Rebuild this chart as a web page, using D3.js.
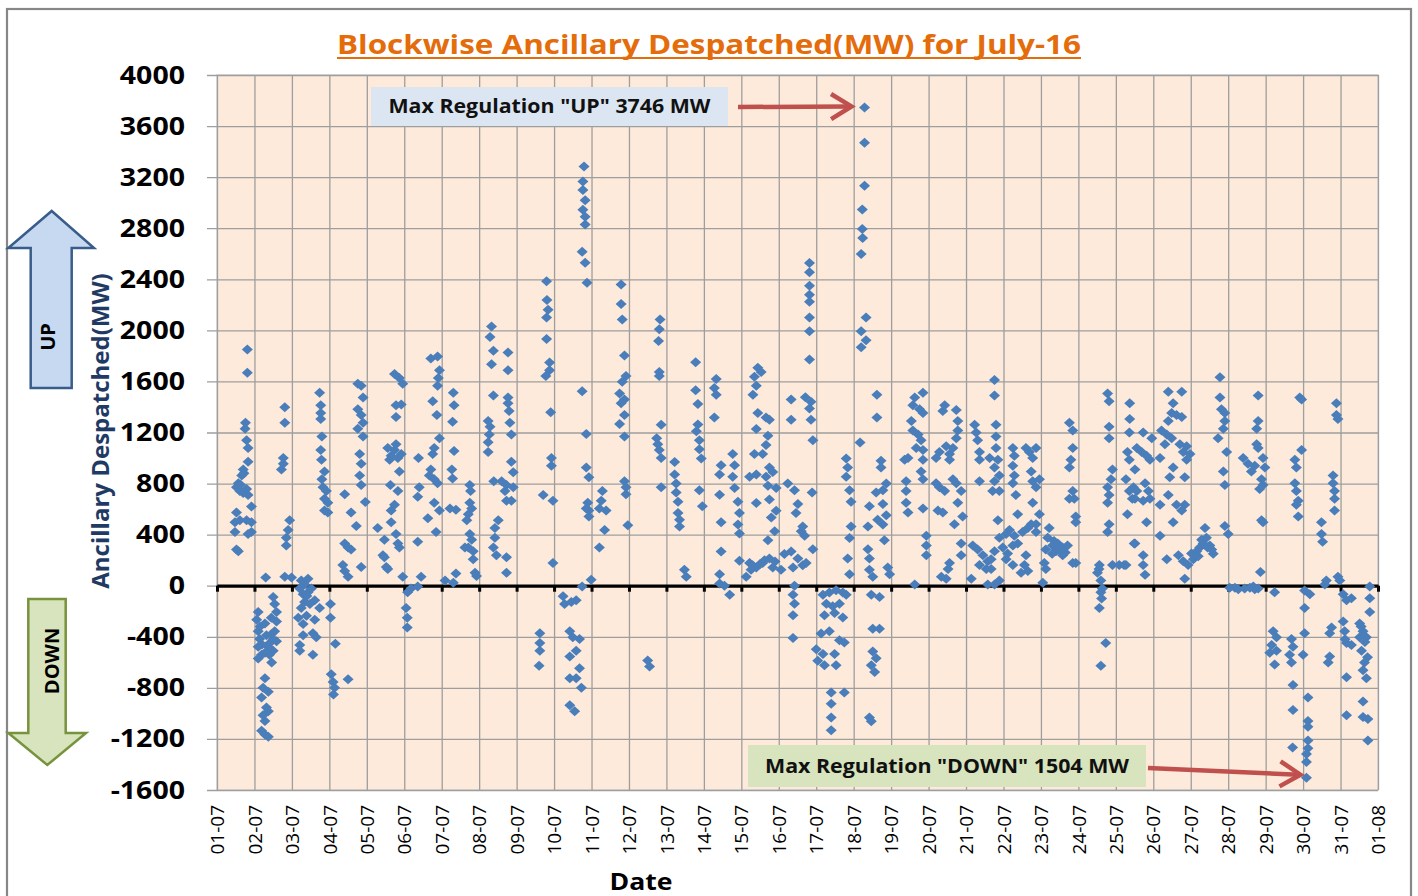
<!DOCTYPE html>
<html>
<head>
<meta charset="utf-8">
<script src="https://cdn.jsdelivr.net/npm/d3@7"></script>
<style>
  body { margin: 0; background: #fff; }
  svg { display: block; font-family: "Open Sans", sans-serif; }
</style>
</head>
<body>
<div id="chart"></div>
<script>
// tick labels
const dateLabels = ["01-07","02-07","03-07","04-07","05-07","06-07","07-07","08-07","09-07","10-07",
  "11-07","12-07","13-07","14-07","15-07","16-07","17-07","18-07","19-07","20-07","21-07","22-07",
  "23-07","24-07","25-07","26-07","27-07","28-07","29-07","30-07","31-07","01-08"];
const yTicks = [-1600,-1200,-800,-400,0,400,800,1200,1600,2000,2400,2800,3200,3600,4000];

// [days since 01-07 00:00, MW]
const week1 = [
  // 01-07
  [0.81,1850],[0.81,1667],[0.76,1276],[0.75,1230],[0.79,1139],[0.83,1078],[0.83,971],[0.70,910],[0.66,864],
  [0.57,803],[0.52,772],[0.61,742],[0.79,757],[0.83,711],[0.70,727],[0.92,620],[0.52,574],[0.61,513],
  [0.48,498],[0.79,513],[0.92,498],[0.92,421],[0.83,406],[0.48,421],[0.57,269],[0.52,284],[0.63,790],[0.72,880],
  // 02-07
  [1.30,64],[1.50,-89],[1.54,-143],[1.59,-205],[1.59,-281],[1.54,-357],[1.59,-434],[1.50,-510],[1.46,-601],
  [1.10,-205],[1.06,-266],[1.10,-357],[1.14,-418],[1.10,-479],[1.19,-540],[1.10,-571],[1.28,-296],[1.32,-388],
  [1.37,-479],[1.28,-525],[1.41,-449],[1.28,-724],[1.23,-800],[1.37,-830],[1.19,-876],[1.32,-953],[1.37,-983],
  [1.23,-1014],[1.28,-1060],[1.19,-1136],[1.28,-1166],[1.37,-1182],[1.15,-320],[1.45,-250],[1.45,-380],
  [1.50,-420],[1.20,-460],[1.40,-540],
  [1.81,1398],[1.81,1276],[1.77,1001],[1.77,956],[1.72,910],[1.94,513],[1.90,437],[1.85,376],[1.85,314],
  [1.81,70],[1.99,64],
  // 03-07
  [2.25,40],[2.34,9],[2.43,55],[2.21,-21],[2.30,-67],[2.43,-52],[2.52,-21],[2.34,-128],[2.25,-174],[2.48,-143],
  [2.61,-113],[2.74,-174],[2.17,-250],[2.39,-235],[2.61,-266],[2.56,-372],[2.65,-403],[2.30,-388],[2.21,-464],
  [2.21,-510],[2.56,-540],[2.40,-80],[2.30,-300],
  [2.74,1511],[2.77,1413],[2.77,1352],[2.77,1306],[2.80,1169],[2.77,1062],[2.79,986],[2.87,895],[2.80,833],
  [2.83,772],[2.92,742],[2.87,681],[2.96,650],[2.87,589],[2.96,574],
  // 04-07
  [3.03,-143],[3.03,-250],[3.16,-455],[3.05,-693],[3.10,-754],[3.14,-800],[3.11,-852],[3.50,-733],
  [3.41,717],[3.58,574],[3.72,467],[3.41,330],[3.50,299],[3.58,284],[3.36,162],[3.41,116],[3.50,70],[3.85,147],
  [3.76,1581],[3.85,1566],[3.90,1474],[3.76,1383],[3.85,1337],[3.90,1276],[3.76,1230],[3.90,1169],[3.81,1032],
  [3.85,956],[3.81,864],[3.85,788],[3.96,656],
  // 05-07
  [4.29,452],[4.47,360],[4.43,238],[4.52,147],[4.56,131],[4.47,223],[4.56,1078],[4.61,986],[4.65,1017],
  [4.74,1062],[4.78,1108],[4.83,1001],[4.92,1032],[4.87,895],[4.63,788],[4.83,742],[4.74,635],[4.65,589],
  [4.65,498],[4.78,406],[4.83,330],[4.87,299],[4.96,70],[4.74,1658],[4.87,1627],[4.96,1581],[4.78,1413],
  [4.92,1419],[4.78,1322],
  // 06-07
  [5.09,-52],[5.18,-21],[5.36,-6],[5.05,-174],[5.08,-250],[5.08,-327],[5.45,70],[5.36,345],[5.38,1001],
  [5.40,772],[5.36,696],[5.63,528],[5.71,1780],[5.89,1795],[5.94,1688],[5.91,1627],[5.89,1566],[5.76,1444],
  [5.87,1337],[5.94,1154],[5.80,1078],[5.76,1032],[5.71,910],[5.67,864],[5.80,833],[5.89,803],[5.80,650],
  [5.94,589],[5.85,421],
  // 07-07
  [6.09,40],[6.31,24],[6.38,95],[6.31,1511],[6.33,1413],[6.29,1285],[6.33,1056],[6.27,910],[6.29,840],
  [6.22,604],[6.38,595],[6.75,788],[6.77,742],[6.75,650],[6.80,604],[6.71,559],[6.67,513],[6.75,406],
  [6.80,360],[6.71,299],[6.62,299],[6.84,269],[6.84,208],[6.89,101],[6.93,76]
];

const week2 = [
  // 08-07
  [7.33,2030],[7.29,1948],[7.38,1841],[7.33,1734],[7.38,1490],[7.77,1826],[7.77,1688],[7.24,1291],[7.29,1246],
  [7.27,1185],[7.24,1124],[7.24,1047],[7.39,818],[7.60,818],[7.73,788],[7.69,742],[7.91,772],[7.86,666],
  [7.73,666],[7.77,1475],[7.77,1429],[7.80,1368],[7.82,1276],[7.86,1185],[7.86,971],[7.91,888],[7.51,513],
  [7.42,452],[7.42,376],[7.38,299],[7.46,238],[7.73,223],[7.73,101],
  // 09-07
  [8.80,2384],[8.81,2238],[8.84,2162],[8.80,2100],[8.80,1933],[8.88,1749],[8.88,1688],[8.78,1643],[8.91,1359],
  [8.93,1001],[8.93,940],[8.71,711],[8.97,666],[8.97,177],[8.62,-372],[8.62,-449],[8.62,-510],[8.60,-626],
  // 10-07
  [9.80,3283],[9.77,3165],[9.77,3100],[9.83,3020],[9.77,2945],[9.83,2890],[9.83,2830],[9.75,2615],[9.83,2530],
  [9.88,2372],[9.75,1523],[9.86,1188],[9.86,925],[9.93,849],[9.90,650],[9.93,589],[9.93,543],[9.86,604],
  [9.24,-82],[9.28,-143],[9.46,-128],[9.59,-113],[9.42,-357],[9.50,-403],[9.68,-418],[9.59,-510],[9.42,-555],
  [9.68,-647],[9.42,-724],[9.59,-724],[9.73,-800],[9.42,-937],[9.55,-983],[9.75,-6],[9.99,46],
  // 11-07
  [10.79,2360],[10.79,2207],[10.82,2085],[10.88,1804],[10.92,1642],[10.82,1597],[10.75,1505],[10.88,1459],
  [10.79,1429],[10.88,1337],[10.75,1267],[10.88,1169],[10.88,818],[10.92,772],[10.92,717],[10.97,473],
  [10.29,742],[10.26,666],[10.21,604],[10.39,589],[10.35,437],[10.21,299],
  // 12-07
  [11.50,-586],[11.55,-632],[11.83,2085],[11.81,2009],[11.79,1917],[11.81,1673],[11.81,1642],[11.86,1261],
  [11.74,1154],[11.77,1108],[11.81,1062],[11.86,1001],[11.86,772],
  // 13-07
  [12.22,968],[12.22,872],[12.26,801],[12.26,730],[12.31,658],[12.31,569],[12.35,516],[12.35,463],[12.48,125],
  [12.53,71],[12.78,1751],[12.78,1530],[12.84,1424],[12.84,1263],[12.80,1210],[12.88,1139],[12.88,1068],
  [12.93,997],[12.88,747],[12.96,623],
  // 14-07
  [13.33,1619],[13.28,1548],[13.33,1495],[13.28,1317],[13.46,943],[13.42,872],[13.42,712],[13.46,498],
  [13.46,267],[13.42,89],[13.42,18],[13.69,-71],[13.55,0],[13.77,1032],[13.82,943],[13.77,854],[13.82,765],
  [13.91,658],[13.95,569],[13.91,480],[13.95,409],[13.95,196]
];

const week3 = [
  // 15-07
  [14.44,1708],[14.53,1673],[14.35,1637],[14.40,1566],[14.31,1495],[14.44,1352],[14.66,1317],[14.75,1299],
  [14.40,1228],[14.71,1175],[14.66,1103],[14.57,1032],[14.35,1032],[14.75,925],[14.84,890],[14.66,854],
  [14.40,872],[14.22,854],[14.71,783],[14.93,765],[14.40,648],[14.75,676],[14.93,587],[14.80,534],[14.89,427],
  [14.71,356],[14.22,178],[14.40,142],[14.57,178],[14.75,214],[14.13,71],[14.26,125],[14.84,142],[14.30,160],
  [14.50,170],[14.62,200],[14.90,190],
  // 16-07
  [15.33,1459],[15.33,1299],[15.06,125],[15.15,249],[15.33,267],[15.51,214],[15.38,142],[15.64,160],[15.73,178],
  [15.91,285],[15.24,801],[15.42,747],[15.51,640],[15.46,569],[15.64,463],[15.69,391],[15.60,427],[15.42,0],
  [15.38,-71],[15.42,-142],[15.38,-231],[15.38,-409],[15.82,2527],[15.82,2456],[15.82,2349],[15.82,2278],
  [15.82,2224],[15.82,2100],[15.82,1993],[15.82,1772],[15.71,1477],[15.86,1441],[15.82,1388],[15.86,1299],
  [15.91,1139],[15.89,730],
  // 17-07
  [16.18,-71],[16.35,-53],[16.53,-36],[16.71,-53],[16.80,-71],[16.27,-142],[16.44,-160],[16.62,-142],
  [16.22,-231],[16.49,-214],[16.71,-249],[16.13,-374],[16.35,-356],[16.62,-427],[16.75,-445],[16.00,-498],
  [16.18,-534],[16.49,-534],[16.04,-587],[16.22,-623],[16.53,-623],[16.40,-836],[16.75,-836],[16.40,-925],
  [16.40,-1032],[16.40,-1132],[16.80,997],[16.84,925],[16.80,854],[16.89,747],[16.93,658],[16.93,463],
  [16.89,374],[16.84,214],[16.89,89],
  // 18-07
  [17.29,3746],[17.29,3470],[17.29,3132],[17.23,2947],[17.23,2794],[17.24,2723],[17.20,2598],[17.33,2100],
  [17.20,1993],[17.33,1922],[17.20,1868],[17.17,1121],[17.62,1495],[17.62,1317],[17.42,623],[17.38,463],
  [17.60,730],[17.73,979],[17.73,925],[17.78,747],[17.87,801],[17.78,640],[17.87,552],[17.64,516],[17.78,480],
  [17.82,356],[17.38,285],[17.42,214],[17.42,125],[17.51,71],[17.91,142],[17.96,89],[17.47,-71],[17.69,-89],
  [17.51,-338],[17.69,-338],[17.51,-516],[17.60,-569],[17.47,-623],[17.56,-676],[17.42,-1032],[17.47,-1061],
  // 19-07
  [18.63,1475],[18.85,1511],[18.58,1413],[18.76,1383],[18.85,1352],[18.54,1291],[18.58,1215],[18.72,1185],
  [18.80,1139],[18.67,1078],[18.85,1062],[18.85,986],[18.80,895],[18.85,833],[18.36,986],[18.45,1001],
  [18.40,818],[18.40,742],[18.40,650],[18.45,574],[18.85,604],[18.94,391],[18.94,314],[18.94,238],[18.63,9],
  // 20-07
  [19.43,1413],[19.38,1368],[19.74,1377],[19.78,1291],[19.78,1215],[19.74,1154],[19.65,1078],[19.47,1093],
  [19.29,1047],[19.20,1001],[19.56,1032],[19.56,986],[19.20,803],[19.29,772],[19.43,742],[19.65,833],
  [19.74,803],[19.87,742],[19.78,650],[19.91,543],[19.69,482],[19.38,574],[19.25,589],[19.52,131],[19.47,55],
  [19.34,70],[19.56,177],[19.87,330],[19.87,238],
  // 21-07
  [20.23,1261],[20.27,1200],[20.31,1139],[20.36,1047],[20.36,986],[20.36,818],[20.14,55],[20.18,314],
  [20.31,284],[20.45,238],[20.58,192],[20.36,162],[20.54,131],[20.67,131],[20.58,9],[20.76,9],[20.89,40],
  [20.76,1612],[20.76,1490],[20.80,1261],[20.80,1169],[20.80,1078],[20.63,1001],[20.85,986],[20.76,925],
  [20.89,864],[20.76,818],[20.89,742],[20.71,742],[20.85,513],[20.89,376],[21.07,406],[20.98,299],[21.07,208],
  [20.76,269],[20.67,208]
];

const week4 = [
  // 22-07
  [21.25,1078],[21.29,1017],[21.25,940],[21.29,864],[21.25,803],[21.33,711],[21.38,559],[21.16,437],
  [21.29,391],[21.25,314],[21.38,330],[21.11,253],[21.25,162],[21.56,162],[21.47,101],[21.65,116],[21.60,238],
  [21.51,421],[21.65,452],[21.74,482],[21.60,1078],[21.69,1047],[21.78,1001],[21.87,1078],[21.74,895],
  [21.78,818],[21.87,772],[21.78,650],[21.96,559],[21.87,482],[21.87,421],[21.96,833],
  // 23-07
  [22.22,452],[22.18,376],[22.13,284],[22.09,177],[22.13,131],[22.05,24],[22.31,314],[22.45,330],[22.58,299],
  [22.71,314],[22.58,238],[22.40,269],[22.85,177],[22.93,177],[22.76,1276],[22.85,1215],[22.85,1078],
  [22.80,986],[22.76,925],[22.85,742],[22.89,681],[22.93,543],[22.93,498],[22.76,681],[22.30,250],[22.50,280],
  [22.65,260],[22.35,350],
  // 24-07
  [23.56,162],[23.51,101],[23.60,40],[23.64,-21],[23.60,-52],[23.56,-174],[23.73,-449],[23.60,-626],
  [23.78,1505],[23.82,1444],[23.82,1246],[23.82,1154],[23.91,910],[23.87,833],[23.78,772],[23.82,711],
  [23.78,650],[23.82,482],[23.78,421],[23.91,162],[24.09,162],[24.27,162],[23.55,130],[23.62,-100],
  // 25-07
  [24.37,1429],[24.37,1306],[24.36,1200],[24.31,1047],[24.36,986],[24.27,833],[24.36,742],[24.44,681],
  [24.31,559],[24.49,330],[24.22,162],[24.73,1200],[24.96,1154],[24.56,1078],[24.69,1047],[24.82,1017],
  [24.91,986],[24.51,910],[24.47,772],[24.56,742],[24.78,803],[24.87,742],[24.91,681],[24.51,681],[24.73,666],
  [24.82,498],[24.51,330],[24.73,238],[24.73,162],[24.78,85],
  // 26-07
  [25.40,1520],[25.76,1520],[25.53,1429],[25.49,1352],[25.62,1337],[25.76,1322],[25.40,1291],[25.22,1215],
  [25.36,1185],[25.49,1154],[25.31,1108],[25.71,1108],[25.89,1093],[25.80,1047],[25.98,1032],[25.89,986],
  [25.53,925],[25.44,849],[25.84,849],[25.18,1001],[25.40,711],[25.62,635],[25.84,635],[25.76,589],[25.18,635],
  [25.53,498],[25.18,391],[25.36,208],[25.67,238],[25.80,192],[25.93,162],[25.84,55],[26.02,253],
  // 27-07
  [26.16,269],[26.24,299],[26.33,330],[26.38,452],[26.42,376],[26.51,314],[26.56,284],[26.07,208],[26.29,360],
  [26.20,230],[26.45,300],[26.60,250],[26.78,1633],[26.78,1475],[26.82,1383],[26.91,1352],[26.91,1291],
  [26.87,1230],[26.73,1154],[26.96,1047],[26.87,895],[26.91,788],[26.91,467],[27.00,406],
  // 28-07
  [27.04,-15],[27.18,-15],[27.27,-27],[27.44,-21],[27.58,-15],[27.71,-27],[27.80,-21],[27.86,107],[27.67,-6],
  [27.80,1490],[27.80,1291],[27.76,1230],[27.76,1108],[27.80,1078],[27.40,1001],[27.53,956],[27.62,895],
  [27.71,940],[27.93,1001],[27.98,925],[27.89,833],[27.93,788],[27.84,757],[27.89,513],[27.93,498]
];

const week5 = [
  // 29-07
  [28.24,-52],[28.20,-357],[28.29,-403],[28.16,-464],[28.29,-510],[28.24,-617],[28.11,-525],[28.69,-418],
  [28.73,-479],[28.64,-540],[28.69,-601],[28.73,-778],[28.73,-974],[28.72,-1267],[28.91,1475],[28.96,1459],
  [28.96,1062],[28.78,986],[28.82,925],[28.78,803],[28.82,742],[28.87,666],[28.82,635],[28.87,543],
  // 30-07
  [29.04,-37],[29.18,-67],[29.04,-174],[29.04,-372],[29.00,-540],[29.13,-876],[29.13,-1060],[29.13,-1105],
  [29.13,-1212],[29.13,-1273],[29.09,-1319],[29.09,-1380],[29.09,-1504],[29.49,498],[29.49,406],[29.52,345],
  [29.58,9],[29.62,40],[29.71,-372],[29.76,-327],[29.67,-601],[29.71,-555],[29.80,864],[29.80,803],[29.84,742],
  [29.84,681],[29.84,589],[29.89,1429],[29.89,1337],[29.93,1306],[29.93,70],[29.98,40],
  // 31-07
  [30.07,-67],[30.16,-113],[30.29,-98],[30.11,-357],[30.07,-281],[30.16,-449],[30.29,-464],[30.51,-296],
  [30.60,-357],[30.69,-403],[30.51,-403],[30.56,-510],[30.64,-601],[30.60,-662],[30.69,-724],[30.16,-717],
  [30.60,-907],[30.16,-1014],[30.60,-1029],[30.73,-1044],[30.73,-1212],[30.78,-6],[30.78,-98],[30.78,-205],
  [30.55,-320],[30.65,-440],[30.72,-560],[30.12,-420]
];

const maxUp = 3746, maxDown = -1504;
const upNote = 'Max Regulation "UP" ' + maxUp + ' MW';
const downNote = 'Max Regulation "DOWN" ' + Math.abs(maxDown) + ' MW';

const width = 1418, height = 896;
const plot = { left: 217, right: 1378, top: 75, bottom: 790 };

const svg = d3.select("#chart").append("svg")
  .attr("width", width)
  .attr("height", height);

// the source picture is a little wider than tall, so bold labels get stretched
function stretch(sel, k) {
  sel.each(function() {
    const len = this.getComputedTextLength();
    d3.select(this).attr("textLength", len * k).attr("lengthAdjust", "spacingAndGlyphs");
  });
}

// outer chart frame
svg.append("rect")
  .attr("x", 7).attr("y", 9)
  .attr("width", 1404).attr("height", 905)
  .attr("fill", "#fff")
  .attr("stroke", "#878787")
  .attr("stroke-width", 2.2);

const x = d3.scaleLinear().domain([0, 31]).range([plot.left, plot.right]);
const y = d3.scaleLinear().domain([-1600, 4000]).range([plot.bottom, plot.top]);

// plot area
svg.append("rect")
  .attr("x", plot.left).attr("y", plot.top)
  .attr("width", plot.right - plot.left).attr("height", plot.bottom - plot.top)
  .attr("fill", "#FDEADA")
  .attr("stroke", "#D4D4D4")
  .attr("stroke-width", 1.5);

// horizontal gridlines + y labels (plain hyphen for negatives, as in Excel)
const yAxis = svg.append("g")
  .attr("transform", `translate(${plot.left},0)`)
  .call(d3.axisLeft(y).tickValues(yTicks).tickFormat(d => String(d))
    .tickSize(-(plot.right - plot.left)).tickPadding(32));
yAxis.select(".domain").remove();
yAxis.selectAll(".tick line")
  .attr("x1", -10)
  .attr("stroke", "#9E9E9E")
  .attr("stroke-width", 1.3);
yAxis.selectAll(".tick text")
  .attr("font-family", "Open Sans")
  .attr("font-weight", "bold")
  .attr("font-size", 25)
  .attr("fill", "#000")
  .call(stretch, 1.14);

// vertical gridlines + date labels
const xAxis = svg.append("g")
  .attr("transform", `translate(0,${plot.bottom})`)
  .call(d3.axisBottom(x).tickValues(d3.range(dateLabels.length))
    .tickSize(-(plot.bottom - plot.top))
    .tickFormat(i => dateLabels[i]));
xAxis.select(".domain").remove();
xAxis.selectAll(".tick line")
  .attr("stroke", "#9E9E9E")
  .attr("stroke-width", 1.3);
xAxis.selectAll(".tick text")
  .attr("font-family", "Open Sans")
  .attr("font-size", 19)
  .attr("fill", "#000")
  .attr("text-anchor", "end")
  .attr("transform", "translate(0,15) rotate(-90)")
  .attr("x", 0).attr("y", 0)
  .attr("dy", "0.35em");

// zero line with small ticks
const zeroAxis = svg.append("g")
  .attr("transform", `translate(0,${y(0)})`)
  .call(d3.axisBottom(x).tickValues(d3.range(dateLabels.length)).tickSize(6).tickSizeOuter(0).tickFormat(""));
zeroAxis.select(".domain").attr("stroke", "#000").attr("stroke-width", 3.2);
zeroAxis.selectAll(".tick line").attr("stroke", "#000").attr("stroke-width", 3);

// data points
const points = week1.concat(week2, week3, week4, week5);
svg.append("g")
  .selectAll("path")
  .data(points)
  .join("path")
  .attr("d", "M0,-5L5.5,0L0,5L-5.5,0Z")
  .attr("transform", d => `translate(${x(d[0])},${y(d[1])})`)
  .attr("fill", "#4A7EBB");

// title
svg.append("text")
  .attr("x", 709).attr("y", 54)
  .attr("text-anchor", "middle")
  .attr("font-family", "Open Sans")
  .attr("font-weight", "bold")
  .attr("font-size", 27)
  .attr("fill", "#E46C0A")
  .attr("textLength", 744)
  .attr("lengthAdjust", "spacingAndGlyphs")
  .text("Blockwise Ancillary Despatched(MW) for July-16");
svg.append("line")
  .attr("x1", 709 - 372).attr("x2", 709 + 372)
  .attr("y1", 58).attr("y2", 58)
  .attr("stroke", "#E46C0A").attr("stroke-width", 2);

// axis titles
svg.append("text")
  .attr("transform", "translate(101,431) rotate(-90)")
  .attr("text-anchor", "middle")
  .attr("dy", "0.35em")
  .attr("font-family", "Open Sans")
  .attr("font-weight", "bold")
  .attr("font-size", 24)
  .attr("fill", "#1F3A64")
  .text("Ancillary Despatched(MW)");

svg.append("text")
  .attr("x", 641).attr("y", 890)
  .attr("text-anchor", "middle")
  .attr("font-family", "Open Sans")
  .attr("font-weight", "bold")
  .attr("font-size", 24)
  .attr("fill", "#000")
  .attr("textLength", 63)
  .attr("lengthAdjust", "spacingAndGlyphs")
  .text("Date");

// UP / DOWN block arrows
svg.append("path")
  .attr("d", "M51.7,211L94,248L71.7,248L71.7,388L30.7,388L30.7,248L8.3,248Z")
  .attr("fill", "#C6D9F1").attr("stroke", "#385D8A").attr("stroke-width", 2.5);
svg.append("text")
  .attr("transform", "translate(48,337) rotate(-90)")
  .attr("text-anchor", "middle").attr("dy", "0.35em")
  .attr("font-family", "Open Sans").attr("font-weight", "bold").attr("font-size", 20)
  .text("UP");

svg.append("path")
  .attr("d", "M28.3,599L65.7,599L65.7,733L86,733L47.3,765L8.3,733L28.3,733Z")
  .attr("fill", "#D7E4BD").attr("stroke", "#77933C").attr("stroke-width", 2.5);
svg.append("text")
  .attr("transform", "translate(52,661) rotate(-90)")
  .attr("text-anchor", "middle").attr("dy", "0.35em")
  .attr("font-family", "Open Sans").attr("font-weight", "bold").attr("font-size", 20)
  .text("DOWN");

// annotation boxes
function note(x0, y0, w, h, fill, label, textW) {
  svg.append("rect")
    .attr("x", x0).attr("y", y0).attr("width", w).attr("height", h)
    .attr("fill", fill);
  svg.append("text")
    .attr("x", x0 + w / 2).attr("y", y0 + h / 2)
    .attr("dy", "0.35em")
    .attr("text-anchor", "middle")
    .attr("font-family", "Open Sans").attr("font-weight", "bold").attr("font-size", 19)
    .attr("fill", "#111")
    .attr("textLength", textW)
    .attr("lengthAdjust", "spacingAndGlyphs")
    .text(label);
}
note(371, 87, 357, 39, "#DCE6F2", upNote, 322);
note(748, 745, 398, 42, "#D7E4BD", downNote, 364);

// red arrows pointing at the extremes
function redArrow(x1, y1, x2, y2) {
  const a = Math.atan2(y2 - y1, x2 - x1);
  const L = 24, s = 0.55;
  const g = svg.append("g").attr("stroke", "#C0504D").attr("stroke-width", 4.5)
    .attr("fill", "none").attr("stroke-linecap", "butt");
  g.append("line").attr("x1", x1).attr("y1", y1).attr("x2", x2 - 2 * Math.cos(a)).attr("y2", y2 - 2 * Math.sin(a));
  g.append("path")
    .attr("stroke-linejoin", "miter")
    .attr("d", `M${x2 - L * Math.cos(a - s)},${y2 - L * Math.sin(a - s)}L${x2},${y2}L${x2 - L * Math.cos(a + s)},${y2 - L * Math.sin(a + s)}`);
}
const upPt = points.find(p => p[1] === maxUp);
const downPt = points.find(p => p[1] === maxDown);
redArrow(738, 107, x(upPt[0]) - 13, y(upPt[1]) - 1);
redArrow(1148, 768, x(downPt[0]) - 6, y(downPt[1]) - 3);
</script>
</body>
</html>
